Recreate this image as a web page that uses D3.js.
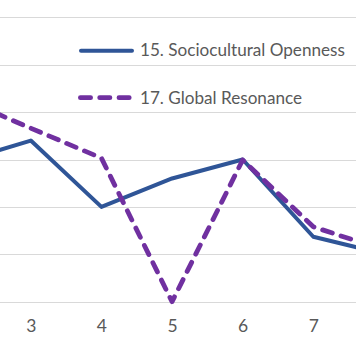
<!DOCTYPE html>
<html>
<head>
<meta charset="utf-8">
<script src="https://cdn.jsdelivr.net/npm/d3@7"></script>
<style>
  html, body { margin: 0; padding: 0; background: #fff; }
  svg { display: block; }
</style>
</head>
<body>
<svg id="chart" width="356" height="339"></svg>
<script>
// ---- data (y in gridline units) ----
const categories = [2, 3, 4, 5, 6, 7, 8];
const sociocultural = [2.95, 3.40, 2.00, 2.60, 3.00, 1.37, 1.01];
const globalResonance = [4.30, 3.66, 3.03, 0.00, 2.99, 1.58, 1.09];
const seriesNames = ["15. Sociocultural Openness", "17. Global Resonance"];
const tickLabels = [3, 4, 5, 6, 7];
const gridValues = [0, 1, 2, 3, 4, 5, 6];

const W = 356, H = 339;
const svg = d3.select("#chart");

const x = d3.scaleLinear().domain([3, 7]).range([30.8, 313.3]);
const y = d3.scaleLinear().domain([0, 6]).range([301.7, 17.3]);

const FONT = "Lato, 'Open Sans', sans-serif";
const TEXT = "#595959";
const BLUE = "#2F5597", PURPLE = "#7030A0";
const DASH = "10.2 9.1";

// gridlines
svg.append("g").selectAll("line").data(gridValues).join("line")
  .attr("x1", 0).attr("x2", W)
  .attr("y1", d => Math.round(y(d)) + 0.5).attr("y2", d => Math.round(y(d)) + 0.5)
  .attr("stroke", "#d9d9d9").attr("stroke-width", 1);

// x tick labels via axis
const xAxis = d3.axisBottom(x).tickValues(tickLabels).tickSize(0).tickPadding(0)
  .tickFormat(d3.format("d"));
const ax = svg.append("g").call(xAxis);
ax.select(".domain").remove();
ax.selectAll("text")
  .attr("y", 332.3).attr("dy", null)
  .style("font-family", FONT).style("font-size", "17.5px").attr("fill", TEXT);

const line = d3.line().x((d, i) => x(categories[i])).y(d => y(d));

// series
svg.append("path").datum(sociocultural)
  .attr("d", line).attr("fill", "none")
  .attr("stroke", BLUE).attr("stroke-width", 4)
  .attr("stroke-linejoin", "round").attr("stroke-linecap", "round");

svg.append("path").datum(globalResonance)
  .attr("d", line).attr("fill", "none")
  .attr("stroke", PURPLE).attr("stroke-width", 4.8)
  .attr("stroke-dasharray", DASH)
  .attr("stroke-linejoin", "round").attr("stroke-linecap", "round");

// legend
const leg = svg.append("g");
leg.append("line").attr("x1", 81).attr("x2", 132).attr("y1", 50.7).attr("y2", 50.7)
  .attr("stroke", BLUE).attr("stroke-width", 4).attr("stroke-linecap", "round");
leg.append("line").attr("x1", 80.4).attr("x2", 130).attr("y1", 97.7).attr("y2", 97.7)
  .attr("stroke", PURPLE).attr("stroke-width", 4.8).attr("stroke-linecap", "round")
  .attr("stroke-dasharray", DASH);

const t1 = leg.append("text").attr("x", 140).attr("y", 56.3).text(seriesNames[0])
  .style("font-family", FONT).style("font-size", "15.5px").attr("fill", TEXT);
const t2 = leg.append("text").attr("x", 140).attr("y", 103.7).text(seriesNames[1])
  .style("font-family", FONT).style("font-size", "15.5px").attr("fill", TEXT);

// fit legend font so the first label spans ~205px like the reference
const len = t1.node().getComputedTextLength();
if (len > 0) {
  const fs = Math.max(13, Math.min(18, 15.5 * 205 / len));
  t1.style("font-size", fs + "px");
  t2.style("font-size", fs + "px");
}
</script>
</body>
</html>
